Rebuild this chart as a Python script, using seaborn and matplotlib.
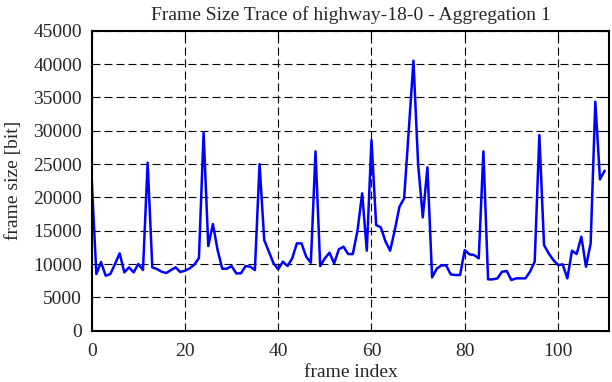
import pandas as pd
import seaborn as sns
import matplotlib.pyplot as plt

# frame sizes (bits), frames 0..110
frame_size = [
    22850, 8500, 10300, 8250, 8500, 10000, 11600, 8750, 9500, 8750,
    10000, 9100, 25200, 9500, 9250, 8850, 8650, 9100, 9500, 8800,
    9000, 9350, 9900, 10900, 29700, 12700, 16000, 12100, 9300, 9300,
    9700, 8600, 8600, 9700, 9600, 9100, 25000, 13600, 11850, 10100,
    9200, 10350, 9700, 10850, 13100, 13100, 11100, 10200, 26900, 9700,
    10850, 11700, 10100, 12200, 12600, 11500, 11500, 15000, 20600, 12000,
    28600, 15850, 15500, 13400, 12000, 15100, 18600, 19850, 30100, 40500,
    25000, 17000, 24500, 8000, 9300, 9800, 9800, 8450, 8350, 8350,
    12100, 11450, 11350, 10850, 26900, 7700, 7700, 7850, 8850, 8950,
    7600, 7850, 7850, 7850, 8850, 10350, 29350, 12850, 11600, 10600,
    9850, 9950, 7850, 12000, 11500, 14100, 9600, 13100, 34350, 22700,
    24000,
]
frame_index = list(range(len(frame_size)))

x_ticks = [0, 20, 40, 60, 80, 100]
y_ticks = list(range(0, 45001, 5000))

df = pd.DataFrame({'frame index': frame_index, 'frame size': frame_size})

sns.set_theme(style="white")
plt.rcParams['font.family'] = ['Liberation Serif', 'DejaVu Serif']
plt.rcParams['font.size'] = 14

fig = plt.figure(figsize=(6.12, 3.82), dpi=100)
ax = fig.add_axes([0.1498, 0.1343, 0.8458, 0.7853])

sns.lineplot(data=df, x='frame index', y='frame size', ax=ax,
             color='#0000ff', linewidth=1.8)

ax.set_xlim(0, 111)
ax.set_ylim(0, 45000)
ax.set_xticks(x_ticks)
ax.set_yticks(y_ticks)
ax.grid(True, color='black', linewidth=0.8, linestyle=(0, (7.2, 3.6)))
ax.set_axisbelow(True)
for s in ax.spines.values():
    s.set_color('black')
    s.set_linewidth(1.5)
ax.tick_params(direction='in', length=5.5, width=0.8, color='black',
               top=True, right=True, labelsize=14)
ax.tick_params(axis='x', pad=9)
ax.tick_params(axis='y', pad=7)

ax.set_title('Frame Size Trace of highway-18-0 - Aggregation 1', fontsize=14, pad=8)
ax.set_xlabel('frame index', fontsize=14, labelpad=3)
ax.set_ylabel('frame size [bit]', fontsize=14, labelpad=8)

fig.savefig('out.png', dpi=100)
